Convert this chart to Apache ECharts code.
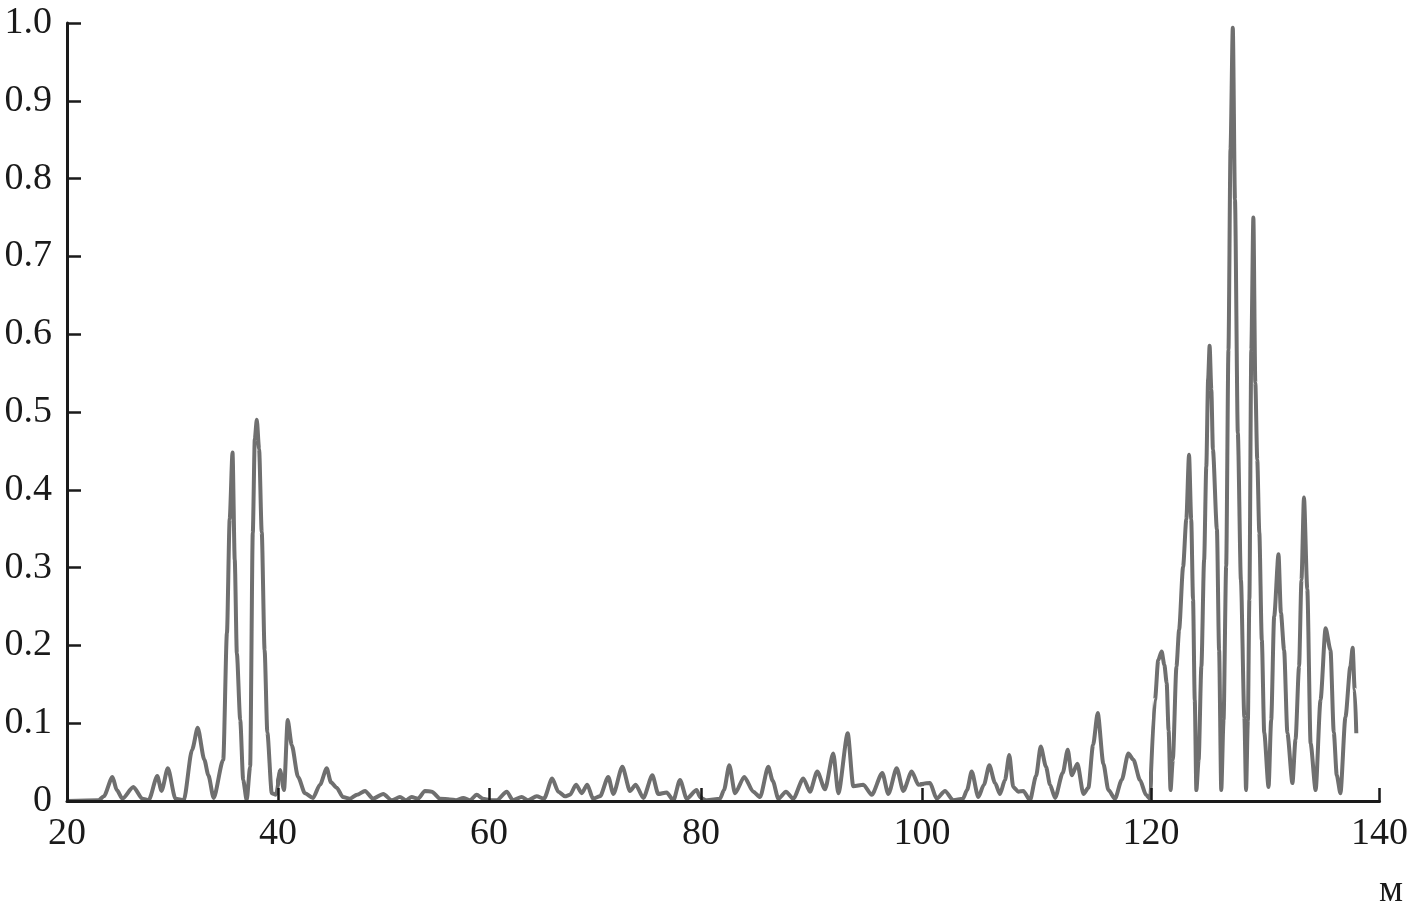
<!DOCTYPE html>
<html><head><meta charset="utf-8">
<script src="https://cdn.jsdelivr.net/npm/echarts@6/dist/echarts.min.js"></script>
<style>html,body{margin:0;padding:0;background:#fff}#c{width:1411px;height:917px}</style>
</head><body><div id="c"></div>
<script>
// Axis ticks
const xTicks = [20, 40, 60, 80, 100, 120, 140];
const yTickLabels = ['0', '0.1', '0.2', '0.3', '0.4', '0.5', '0.6', '0.7', '0.8', '0.9', '1.0'];

// Distance, m
const distance = [20.0, 23.0, 23.49, 24.31, 24.72, 25.25, 26.29, 27.14, 27.74, 28.56, 28.96, 29.56, 30.28, 31.07, 31.86, 32.39, 33.02, 33.40, 33.90, 34.81, 35.16, 35.42, 35.69, 35.90, 36.10, 36.42, 36.70, 37.03, 37.36, 37.61, 37.80, 37.99, 38.21, 38.46, 38.73, 38.99, 39.41, 39.81, 40.19, 40.57, 40.92, 41.30, 41.90, 42.56, 43.32, 43.98, 44.62, 45.02, 45.56, 46.16, 46.82, 47.49, 48.25, 49.00, 49.98, 50.78, 51.56, 52.13, 52.67, 53.27, 53.93, 54.57, 55.36, 56.30, 56.87, 57.56, 58.20, 58.83, 59.43, 60.09, 60.73, 61.67, 62.26, 63.08, 63.68, 64.50, 65.19, 65.96, 66.54, 67.17, 67.64, 68.21, 68.75, 69.27, 69.81, 70.47, 71.25, 71.73, 72.58, 73.30, 73.84, 74.56, 75.41, 75.97, 76.76, 77.39, 78.02, 78.65, 79.59, 79.91, 80.52, 81.72, 82.08, 82.56, 83.08, 83.92, 84.73, 85.34, 86.09, 86.49, 87.00, 87.69, 88.35, 89.26, 89.86, 90.52, 91.22, 91.97, 92.43, 93.28, 93.78, 94.69, 95.45, 96.41, 96.95, 97.71, 98.31, 99.07, 99.67, 100.70, 101.28, 102.01, 102.73, 103.58, 103.93, 104.34, 104.92, 105.41, 105.88, 106.38, 106.81, 107.25, 107.62, 107.97, 108.41, 108.85, 109.43, 109.96, 110.37, 110.83, 111.18, 111.62, 112.29, 112.73, 113.08, 113.57, 114.10, 114.53, 114.94, 115.35, 115.84, 116.28, 116.86, 117.44, 118.02, 118.46, 119.04, 119.56, 119.91, 120.35, 120.63, 120.93, 121.17, 121.37, 121.54, 121.71, 121.91, 122.23, 122.46, 122.81, 123.09, 123.33, 123.52, 123.68, 123.83, 123.97, 124.17, 124.41, 124.65, 124.84, 125.00, 125.13, 125.28, 125.42, 125.77, 125.96, 126.15, 126.35, 126.58, 126.78, 126.96, 127.16, 127.35, 127.60, 127.87, 128.17, 128.32, 128.48, 128.61, 128.78, 128.96, 129.13, 129.30, 129.48, 129.70, 129.91, 130.29, 130.52, 130.78, 131.16, 131.37, 131.65, 131.94, 132.38, 132.65, 132.96, 133.17, 133.39, 133.68, 133.97, 134.41, 134.84, 135.28, 135.71, 136.00, 136.26, 136.58, 137.02, 137.45, 137.65, 137.83, 137.97];

// Normalised amplitude
const amplitude = [0, 0.001, 0.006, 0.031, 0.014, 0.003, 0.018, 0.003, 0.001, 0.032, 0.013, 0.042, 0.003, 0.001, 0.066, 0.094, 0.053, 0.033, 0.004, 0.053, 0.216, 0.362, 0.448, 0.310, 0.190, 0.104, 0.027, 0.001, 0.044, 0.345, 0.465, 0.490, 0.452, 0.345, 0.194, 0.088, 0.010, 0.008, 0.040, 0.014, 0.104, 0.072, 0.031, 0.010, 0.004, 0.021, 0.042, 0.024, 0.017, 0.005, 0.003, 0.008, 0.013, 0.003, 0.009, 0.001, 0.005, 0.001, 0.005, 0.003, 0.013, 0.012, 0.003, 0.002, 0.001, 0.004, 0.001, 0.008, 0.003, 0.001, 0.001, 0.012, 0.001, 0.005, 0.001, 0.006, 0.003, 0.029, 0.012, 0.006, 0.008, 0.021, 0.010, 0.021, 0.003, 0.006, 0.031, 0.009, 0.044, 0.013, 0.021, 0.004, 0.033, 0.009, 0.011, 0.001, 0.027, 0.003, 0.014, 0.005, 0.001, 0.003, 0.014, 0.046, 0.010, 0.031, 0.012, 0.005, 0.044, 0.026, 0.003, 0.012, 0.003, 0.029, 0.012, 0.038, 0.015, 0.061, 0.010, 0.087, 0.019, 0.021, 0.008, 0.036, 0.009, 0.042, 0.013, 0.038, 0.021, 0.023, 0.003, 0.013, 0.001, 0.003, 0.014, 0.038, 0.005, 0.021, 0.046, 0.023, 0.009, 0.027, 0.059, 0.018, 0.012, 0.013, 0.001, 0.032, 0.070, 0.044, 0.021, 0.004, 0.036, 0.066, 0.033, 0.048, 0.009, 0.017, 0.072, 0.113, 0.048, 0.014, 0.003, 0.027, 0.061, 0.053, 0.027, 0.008, 0.003, 0.130, 0.181, 0.192, 0.175, 0.152, 0.091, 0.014, 0.053, 0.173, 0.220, 0.301, 0.362, 0.445, 0.362, 0.259, 0.130, 0.014, 0.053, 0.173, 0.310, 0.430, 0.542, 0.585, 0.529, 0.452, 0.349, 0.194, 0.014, 0.104, 0.302, 0.580, 0.838, 0.994, 0.773, 0.473, 0.284, 0.108, 0.014, 0.104, 0.259, 0.580, 0.750, 0.538, 0.439, 0.345, 0.207, 0.088, 0.018, 0.104, 0.237, 0.317, 0.242, 0.194, 0.087, 0.023, 0.079, 0.173, 0.284, 0.390, 0.272, 0.074, 0.014, 0.130, 0.222, 0.194, 0.088, 0.033, 0.010, 0.108, 0.173, 0.197, 0.143, 0.087];

// Layout: the original x axis is unevenly spaced, so each 20 m span gets its own grid
const segEdges = [67, 278, 489, 701, 922, 1151, 1382];
const plotTop = 23, plotBottom = 801;

const FONT = '"Liberation Serif", "Times New Roman", serif';
const INK = '#1a1a1a';

const pts = distance.map((d, i) => [d, amplitude[i]]);

const grid = [], xAxis = [], yAxis = [], series = [];
for (let s = 0; s < 6; s++) {
  const lo = xTicks[s], hi = xTicks[s + 1];
  grid.push({ left: segEdges[s], width: segEdges[s + 1] - segEdges[s], top: plotTop, height: plotBottom - plotTop, containLabel: false });
  xAxis.push({
    type: 'value', gridIndex: s, min: lo, max: hi, interval: 20, z: 10,
    axisLine: { show: true, lineStyle: { color: INK, width: 3 } },
    axisTick: { show: true, inside: true, length: 13, lineStyle: { color: INK, width: 2.5 } },
    axisLabel: { show: true, showMinLabel: true, showMaxLabel: s === 5, fontFamily: FONT, fontSize: 38, color: INK, margin: 14 },
    splitLine: { show: false }
  });
  yAxis.push({
    type: 'value', gridIndex: s, min: 0, max: 1, interval: 0.1, z: 10,
    show: s === 0,
    axisLine: { show: true, lineStyle: { color: INK, width: 3 } },
    axisTick: { show: true, inside: true, length: 14, lineStyle: { color: INK, width: 2.5 } },
    axisLabel: { show: true, fontFamily: FONT, fontSize: 38, color: INK, margin: 15,
      formatter: v => yTickLabels[Math.round(v * 10)] },
    splitLine: { show: false }
  });
  // points inside the span plus one neighbour on each side (clipped by the grid)
  let first = pts.findIndex(p => p[0] >= lo);
  let last = -1;
  pts.forEach((p, i) => { if (p[0] <= hi) last = i; });
  first = Math.max(0, first - 1);
  last = Math.min(pts.length - 1, last + 1);
  series.push({
    type: 'line', xAxisIndex: s, yAxisIndex: s, z: 2,
    data: pts.slice(first, last + 1),
    showSymbol: false, smooth: 0.25, smoothMonotone: 'x', clip: true,
    lineStyle: { color: '#6f6f6f', width: 4 },
    animation: false
  });
}

const chart = echarts.init(document.getElementById('c'), null, { renderer: 'canvas' });
chart.setOption({
  backgroundColor: '#fff',
  animation: false,
  grid, xAxis, yAxis, series,
  graphic: [{
    type: 'text', x: 1391, y: 891,
    style: { text: 'м', fontFamily: FONT, fontSize: 38, fill: INK, align: 'center', verticalAlign: 'middle' }
  }]
});
</script>
</body></html>
